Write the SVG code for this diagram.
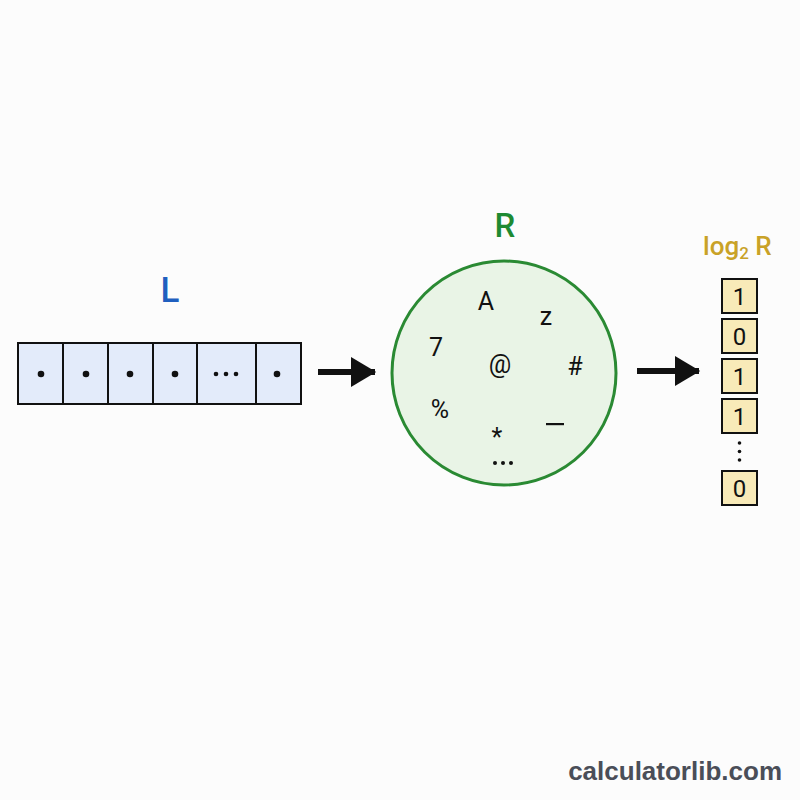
<svg xmlns="http://www.w3.org/2000/svg" width="800" height="800" viewBox="0 0 800 800">
<defs>
<style>
.cell{fill:#e3ebfa;stroke:#111;stroke-width:2}
.bit{fill:#f8eab8;stroke:#111;stroke-width:2}
.t{font-family:Roboto,"Liberation Sans","DejaVu Sans",sans-serif;fill:#111}
.lab{font-weight:500}
.sym{font-size:25px;text-anchor:middle}
.bitt{font-size:24px;text-anchor:middle}
.dot{fill:#111}
</style>
<marker id="ah" markerWidth="5" markerHeight="5" refX="4" refY="2.5" orient="auto" markerUnits="strokeWidth">
<path d="M0,0 L4.2,2.5 L0,5 z" fill="#111"/>
</marker>
</defs>
<rect width="800" height="800" fill="#fcfcfc"/>

<g id="L">
<text class="t lab" x="170" y="302" font-size="35" text-anchor="middle" style="fill:#1f5fbf">L</text>
<rect class="cell" x="18" y="343" width="45" height="61"/>
<rect class="cell" x="63" y="343" width="45" height="61"/>
<rect class="cell" x="108" y="343" width="45" height="61"/>
<rect class="cell" x="153" y="343" width="44" height="61"/>
<rect class="cell" x="197" y="343" width="59" height="61"/>
<rect class="cell" x="256" y="343" width="45" height="61"/>
<circle class="dot" cx="41" cy="374" r="3.3"/>
<circle class="dot" cx="86" cy="374" r="3.3"/>
<circle class="dot" cx="130" cy="374" r="3.3"/>
<circle class="dot" cx="175" cy="374" r="3.3"/>
<circle class="dot" cx="216" cy="374" r="2.3"/>
<circle class="dot" cx="226" cy="374" r="2.3"/>
<circle class="dot" cx="236" cy="374" r="2.3"/>
<circle class="dot" cx="277" cy="374" r="3.3"/>
</g>

<g id="R">
<text class="t lab" x="505" y="237" font-size="33" text-anchor="middle" style="fill:#1e8a32">R</text>
<circle cx="504" cy="373" r="112" fill="#e9f4e6" stroke="#2a8a33" stroke-width="3"/>
<text class="t sym" x="486" y="310">A</text>
<text class="t sym" x="546" y="325">z</text>
<text class="t sym" x="436" y="356">7</text>
<text class="t sym" x="500" y="373">@</text>
<text class="t sym" x="575" y="375">#</text>
<text class="t sym" x="440" y="418">%</text>
<text class="t sym" x="497" y="446" font-size="32">*</text>
<rect x="546" y="423" width="18" height="2.2" fill="#111"/>
<circle class="dot" cx="495" cy="463" r="2"/>
<circle class="dot" cx="503" cy="463" r="2"/>
<circle class="dot" cx="511" cy="463" r="2"/>
</g>

<g id="bits">
<text class="t lab" x="703" y="255" font-size="26" style="fill:#c9a227">log<tspan font-size="17" dy="4">2</tspan><tspan dy="-4"> R</tspan></text>
<rect class="bit" x="722" y="279" width="35" height="34"/>
<rect class="bit" x="722" y="319" width="35" height="34"/>
<rect class="bit" x="722" y="359" width="35" height="34"/>
<rect class="bit" x="722" y="399" width="35" height="34"/>
<rect class="bit" x="722" y="471" width="35" height="34"/>
<text class="t bitt" x="739.5" y="305">1</text>
<text class="t bitt" x="739.5" y="345">0</text>
<text class="t bitt" x="739.5" y="385">1</text>
<text class="t bitt" x="739.5" y="425">1</text>
<text class="t bitt" x="739.5" y="497">0</text>
<circle class="dot" cx="739.5" cy="443" r="1.8"/>
<circle class="dot" cx="739.5" cy="451.5" r="1.8"/>
<circle class="dot" cx="739.5" cy="460" r="1.8"/>
</g>

<g id="connectors">
<line x1="318" y1="372" x2="375" y2="372" stroke="#111" stroke-width="6" marker-end="url(#ah)"/>
<line x1="637" y1="371" x2="699" y2="371" stroke="#111" stroke-width="6" marker-end="url(#ah)"/>
</g>

<text class="t" x="782" y="780" font-size="26" font-weight="bold" text-anchor="end" style="fill:#4a4e58;font-family:'Liberation Sans',Arial,sans-serif">calculatorlib.com</text>
</svg>
